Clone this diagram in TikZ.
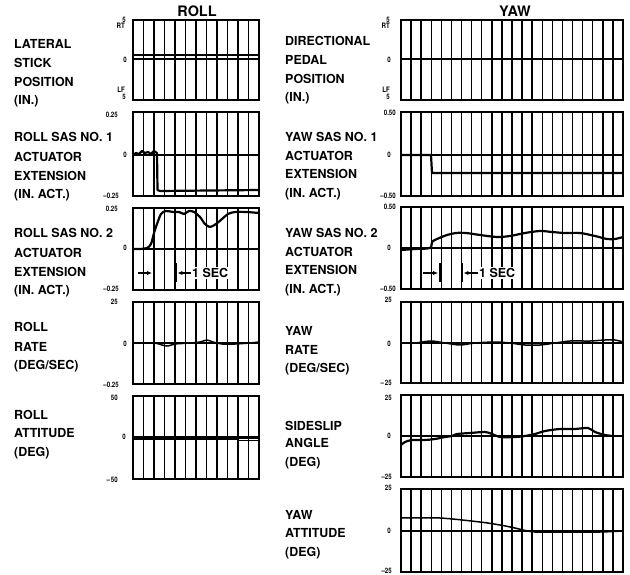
\documentclass[tikz,border=0pt]{standalone}
\usepackage{fontspec}
\usepackage{graphicx}
\setmainfont{TeX Gyre Heros}
\usetikzlibrary{arrows.meta}
\newcommand\tkt[1]{\scalebox{0.82}[1]{#1}}
\tikzset{
  lab/.style={font=\fontsize{12.5}{13}\selectfont\bfseries, anchor=base west, inner sep=0pt},
  ttl/.style={font=\fontsize{14.5}{15}\selectfont\bfseries, inner sep=0pt},
  tk/.style={font=\fontsize{7.5}{7.5}\selectfont\bfseries, anchor=east, inner sep=0pt},
  gridln/.style={line width=1.4pt},
  zeroln/.style={line width=1.3pt},
  frameln/.style={line width=2pt},
  trace/.style={line width=2.2pt, line join=round, line cap=round},
  thintrace/.style={line width=1.5pt, line join=round, line cap=round},
  sectxt/.style={font=\fontsize{12.5}{13}\selectfont\bfseries, anchor=west, fill=white, inner sep=1pt},
  tip/.style={-{Latex[length=5pt,width=4.5pt]}, line width=1.4pt},
  bar/.style={line width=2pt},
}
\newcommand\chartpanel[6]{%
  \foreach \k in {1,...,#5}{%
    \draw[gridln] ({#1+(#2-#1)*\k/(#5+1)},#3) -- ({#1+(#2-#1)*\k/(#5+1)},#4);
  }%
  \draw[zeroln] (#1,#6) -- (#2,#6);
  \draw[frameln] (#1,#3) rectangle (#2,#4);
}
\begin{document}
\begin{tikzpicture}[x=1bp,y=-1bp]
\useasboundingbox (0,0) rectangle (630,575);

% titles
\node[ttl] (troll) at (197,11) {ROLL};
\node[ttl] (tyaw) at (515,11) {YAW};

% ---------------- left column panels ----------------
\chartpanel{133}{259}{20}{100}{11}{59}
\chartpanel{133}{259}{112}{196}{11}{155}
\chartpanel{133}{259}{208}{290}{11}{249}
\chartpanel{133}{259}{302}{384}{11}{343}
\chartpanel{133}{259}{396}{479}{11}{438}

% ---------------- right column panels ----------------
\chartpanel{401}{623}{20}{100}{21}{59}
\chartpanel{401}{623}{112}{196}{21}{155}
\chartpanel{401}{623}{207}{289}{21}{248}
\chartpanel{401}{623}{302}{383}{21}{343}
\chartpanel{401}{623}{395}{477}{21}{436}
\chartpanel{401}{623}{489}{572}{21}{531}

% ---------------- left labels ----------------
\node[lab] (l1a) at (14,48.5) {LATERAL};
\node[lab] (l1b) at (14,67.5) {STICK};
\node[lab] (l1c) at (14,86.5) {POSITION};
\node[lab] (l1d) at (14,104.5) {(IN.)};
\node[lab] (l2a) at (14,141.5) {ROLL SAS NO. 1};
\node[lab] (l2b) at (14,161.5) {ACTUATOR};
\node[lab] (l2c) at (14,180.5) {EXTENSION};
\node[lab] (l2d) at (14,198.5) {(IN. ACT.)};
\node[lab] (l3a) at (14,237.5) {ROLL SAS NO. 2};
\node[lab] (l3b) at (14,257.5) {ACTUATOR};
\node[lab] (l3c) at (14,276.5) {EXTENSION};
\node[lab] (l3d) at (14,294.5) {(IN. ACT.)};
\node[lab] (l4a) at (14,331.5) {ROLL};
\node[lab] (l4b) at (14,351.5) {RATE};
\node[lab] (l4c) at (14,369.5) {(DEG/SEC)};
\node[lab] (l5a) at (14,419.5) {ROLL};
\node[lab] (l5b) at (14,437.5) {ATTITUDE};
\node[lab] (l5c) at (14,456.5) {(DEG)};

% ---------------- right labels ----------------
\node[lab] (r1a) at (285,45.5) {DIRECTIONAL};
\node[lab] (r1b) at (285,64.5) {PEDAL};
\node[lab] (r1c) at (285,83.5) {POSITION};
\node[lab] (r1d) at (285,101.5) {(IN.)};
\node[lab] (r2a) at (285,141.5) {YAW SAS NO. 1};
\node[lab] (r2b) at (285,160.5) {ACTUATOR};
\node[lab] (r2c) at (285,178.5) {EXTENSION};
\node[lab] (r2d) at (285,197.5) {(IN. ACT.)};
\node[lab] (r3a) at (285,237.5) {YAW SAS NO. 2};
\node[lab] (r3b) at (285,256.5) {ACTUATOR};
\node[lab] (r3c) at (285,274.5) {EXTENSION};
\node[lab] (r3d) at (285,293.5) {(IN. ACT.)};
\node[lab] (r4a) at (285,335.5) {YAW};
\node[lab] (r4b) at (285,354.5) {RATE};
\node[lab] (r4c) at (285,372.5) {(DEG/SEC)};
\node[lab] (r5a) at (285,430.5) {SIDESLIP};
\node[lab] (r5b) at (285,447.5) {ANGLE};
\node[lab] (r5c) at (285,466.5) {(DEG)};
\node[lab] (r6a) at (285,519.5) {YAW};
\node[lab] (r6b) at (285,537.5) {ATTITUDE};
\node[lab] (r6c) at (285,556.5) {(DEG)};

% ---------------- left ticks ----------------
\node[tk] (lt1a) at (126,19.5) {\tkt{5}};
\node[tk] (lt1b) at (125,26) {\tkt{RT}};
\node[tk] (lt1c) at (127,60) {\tkt{0}};
\node[tk] (lt1d) at (125,90) {\tkt{LF}};
\node[tk] (lt1e) at (126,97) {\tkt{5}};
\node[tk] (lt2a) at (118,115) {\tkt{0.25}};
\node[tk] (lt2b) at (127,155) {\tkt{0}};
\node[tk] (lt2c) at (119,196) {\tkt{\textendash0.25}};
\node[tk] (lt3a) at (118,209) {\tkt{0.25}};
\node[tk] (lt3b) at (127,248) {\tkt{0}};
\node[tk] (lt3c) at (119,289) {\tkt{\textendash0.25}};
\node[tk] (lt4a) at (118,302) {\tkt{25}};
\node[tk] (lt4b) at (127,344) {\tkt{0}};
\node[tk] (lt4c) at (119,385) {\tkt{\textendash0.25}};
\node[tk] (lt5a) at (118,398) {\tkt{50}};
\node[tk] (lt5b) at (126,437) {\tkt{0}};
\node[tk] (lt5c) at (118,480) {\tkt{\textendash\,50}};

% ---------------- right ticks ----------------
\node[tk] (rt1a) at (390,19.5) {\tkt{5}};
\node[tk] (rt1b) at (390,26) {\tkt{RT}};
\node[tk] (rt1c) at (391,60) {\tkt{0}};
\node[tk] (rt1d) at (390,90) {\tkt{LF}};
\node[tk] (rt1e) at (390,97) {\tkt{5}};
\node[tk] (rt2a) at (396,113) {\tkt{0.50}};
\node[tk] (rt2b) at (391,155) {\tkt{0}};
\node[tk] (rt2c) at (396,196) {\tkt{\textendash0.50}};
\node[tk] (rt3a) at (396,207) {\tkt{0.50}};
\node[tk] (rt3b) at (391,248) {\tkt{0}};
\node[tk] (rt3c) at (396,289) {\tkt{\textendash0.50}};
\node[tk] (rt4a) at (392,300) {\tkt{25}};
\node[tk] (rt4b) at (391,344) {\tkt{0}};
\node[tk] (rt4c) at (392,383) {\tkt{\textendash\,25}};
\node[tk] (rt5a) at (392,398) {\tkt{25}};
\node[tk] (rt5b) at (391,436) {\tkt{0}};
\node[tk] (rt5c) at (392,477) {\tkt{\textendash25}};
\node[tk] (rt6a) at (392,488) {\tkt{25}};
\node[tk] (rt6b) at (391,531) {\tkt{0}};
\node[tk] (rt6c) at (392,570.5) {\tkt{\textendash25}};

% ---------------- left traces ----------------
\draw[trace] (133,55) -- (259,55);
\draw[trace] plot[sharp plot] coordinates {(133,155) (136,153) (139,154) (142,151) (145,153) (148,152) (151,154) (154,151) (157,153) (157.5,190) (160,191) (259,190)};
\draw[trace] plot[smooth, tension=0.5] coordinates {(133,249) (140,249) (147,248) (151,244) (154,233) (157,224) (161,214) (166,211) (173,212) (179,212) (184,214) (189,211) (194,212) (200,217) (205,224) (210,227) (216,224) (222,219) (228,214) (235,212) (246,212) (259,213)};
\draw[thintrace] plot[smooth, tension=0.5] coordinates {(133,343) (145,343) (155,343) (162,345) (168,346) (175,344) (190,343) (200,342) (207,340) (213,342) (222,344) (235,344) (250,343) (259,342)};
\draw[line width=3.5pt] (133,438) -- (238,438);
\draw[line width=1pt] (238,436.5) -- (259,436.5);
\draw[line width=1pt] (238,440) -- (259,440);

% 1 SEC marker, left
\coordinate (la1) at (138,273);
\coordinate (la2) at (152,273);
\coordinate (lb1) at (154,263);
\coordinate (lb2) at (154,282);
\coordinate (lc1) at (176,263);
\coordinate (lc2) at (176,282);
\node[sectxt] (lsec) at (191,273) {1 SEC};
\coordinate (ld) at (177.5,273);
\draw[tip] (la1) -- (la2);
\draw[bar] (lb1) -- (lb2);
\draw[bar] (lc1) -- (lc2);
\draw[tip] (lsec.west) -- (ld);

% ---------------- right traces ----------------
\draw[trace] (401,59) -- (623,59);
\draw[trace] plot[sharp plot] coordinates {(401,155) (431,155) (432,173) (623,173)};
\draw[trace] plot[smooth, tension=0.5] coordinates {(401,250) (415,249) (430,248) (432,242) (437,239) (447,235) (456,233) (466,233) (480,235) (497,237) (510,236) (525,233) (540,231) (552,232) (565,233) (580,233) (595,236) (607,239) (615,239) (623,237)};
\draw[thintrace] plot[smooth, tension=0.5] coordinates {(401,343) (415,343) (431,341) (445,343) (460,345) (475,343) (495,342) (510,343) (525,345) (540,345) (555,343) (570,341) (590,341) (605,340) (615,340) (623,342)};
\draw[trace] plot[smooth, tension=0.5] coordinates {(401,445) (405,442) (412,440) (425,440) (435,439) (445,437) (452,436) (457,434) (470,433) (485,432) (492,434) (500,437) (515,437) (525,436) (535,434) (545,431) (560,429) (575,429) (588,428) (595,432) (605,435) (613,436)};
\draw[thintrace] plot[smooth, tension=0.5] coordinates {(401,518) (440,518) (480,522) (500,525) (515,528) (523,530) (535,532) (560,532) (600,532) (623,531)};

% 1 SEC marker, right
\coordinate (ra1) at (423,273);
\coordinate (ra2) at (438,273);
\coordinate (rb1) at (440,263);
\coordinate (rb2) at (440,282);
\coordinate (rc1) at (462,263);
\coordinate (rc2) at (462,282);
\node[sectxt] (rsec) at (478,273) {1 SEC};
\coordinate (rd) at (463.5,273);
\draw[tip] (ra1) -- (ra2);
\draw[bar] (rb1) -- (rb2);
\draw[bar] (rc1) -- (rc2);
\draw[tip] (rsec.west) -- (rd);
\end{tikzpicture}
\end{document}
